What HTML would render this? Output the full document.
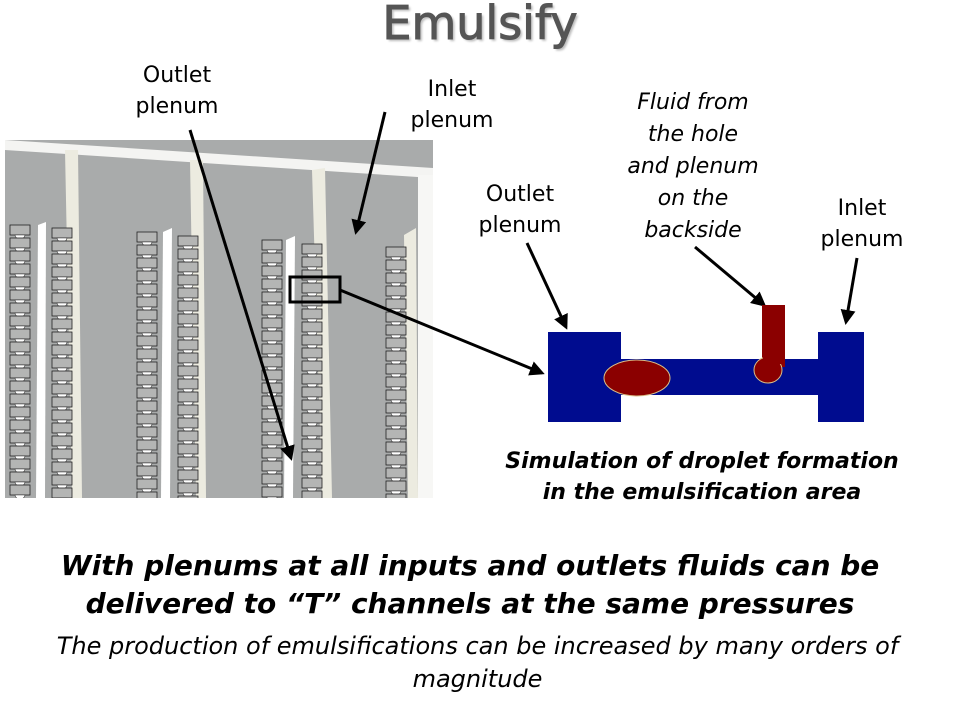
<!DOCTYPE html>
<html><head><meta charset="utf-8"><style>
body{margin:0;width:960px;height:720px;background:#fff;overflow:hidden;position:relative;font-family:"DejaVu Sans","Liberation Sans",sans-serif}
.t{position:absolute;text-align:center;color:#000;white-space:nowrap}
</style></head><body>
<svg width="960" height="720" style="position:absolute;left:0;top:0">
<defs>
<marker id="a" markerWidth="5" markerHeight="5" refX="4" refY="2.5" orient="auto" markerUnits="strokeWidth"><path d="M0,0 L5,2.5 L0,5 z" fill="#000"/></marker>
<clipPath id="cl"><rect x="5" y="140" width="428" height="358"/></clipPath>
</defs>
<rect x="5" y="140" width="428" height="358" fill="#a9abab"/>
<polygon points="5,140 433,168 433,178 5,150" fill="#f4f4f2"/>
<rect x="418" y="175" width="15" height="323" fill="#f7f7f5"/>
<polygon points="38,225 46,222 45,498 36,498" fill="#fff"/>
<polygon points="65,150 78,150 82,498 72,498" fill="#ecebe0"/>
<polygon points="163,232 172,228 170,498 161,498" fill="#fff"/>
<polygon points="190,160 203,160 206,498 196,498" fill="#ecebe0"/>
<polygon points="286,240 295,236 293,498 284,498" fill="#fff"/>
<polygon points="312,170 325,168 332,498 322,498" fill="#ecebe0"/>
<polygon points="404,235 416,228 418,498 408,498" fill="#ecebe0"/>
<g id="chains" clip-path="url(#cl)"></g>
<rect x="290" y="277" width="50" height="25" fill="none" stroke="#000" stroke-width="3"/>
<g stroke="#000" stroke-width="3" fill="none">
<line x1="190" y1="130" x2="291" y2="458" marker-end="url(#a)"/>
<line x1="385" y1="112" x2="356" y2="232" marker-end="url(#a)"/>
<line x1="340" y1="290" x2="542" y2="373" marker-end="url(#a)"/>
<line x1="527" y1="243" x2="566" y2="327" marker-end="url(#a)"/>
<line x1="695" y1="247" x2="764" y2="305" marker-end="url(#a)"/>
<line x1="857" y1="258" x2="846" y2="322" marker-end="url(#a)"/>
</g>
<rect x="548" y="332" width="73" height="90" fill="#000c8f"/>
<rect x="621" y="359" width="197" height="36" fill="#000c8f"/>
<rect x="818" y="332" width="46" height="90" fill="#000c8f"/>
<rect x="762" y="305" width="23" height="62" fill="#8b0000"/>
<ellipse cx="768" cy="370" rx="14" ry="13" fill="#8b0000" stroke="#d9c08a" stroke-width="1"/>
<rect x="763" y="350" width="21" height="14" fill="#8b0000"/>
<ellipse cx="637" cy="378" rx="33" ry="18" fill="#8b0000" stroke="#d9c08a" stroke-width="1"/>
</svg>
<script>
(function(){
var g=document.getElementById('chains'),s='';
var ch=[[10,225],[52,228],[137,232],[178,236],[262,240],[302,244],[386,247]];
ch.forEach(function(c){
 for(var y=c[1];y<498;y+=13){
  var x=c[0];
  s+='<rect x="'+x+'" y="'+y+'" width="20" height="10" fill="#b4b5b4" stroke="#222" stroke-width="0.8"/>';
  s+='<path d="M'+(x+5)+' '+(y+10)+' a5 4 0 0 0 10 0z" fill="#fff" stroke="#333" stroke-width="0.6"/>';
 }
});
g.innerHTML=s;
})();
</script>
<div class="t" style="left:0;width:960px;top:-4px;font-size:46px;color:#555;text-shadow:2px 2px 2px #bbb;-webkit-text-stroke:1px #555">Emulsify</div>
<div class="t" style="left:117px;width:120px;top:60px;font-size:22px;line-height:31px">Outlet<br>plenum</div>
<div class="t" style="left:392px;width:120px;top:74px;font-size:22px;line-height:31px">Inlet<br>plenum</div>
<div class="t" style="left:460px;width:120px;top:179px;font-size:22px;line-height:31px">Outlet<br>plenum</div>
<div class="t" style="left:802px;width:120px;top:193px;font-size:22px;line-height:31px">Inlet<br>plenum</div>
<div class="t" style="left:600px;width:186px;top:87px;font-size:22px;line-height:32px;font-style:italic">Fluid from<br>the hole<br>and plenum<br>on the<br>backside</div>
<div class="t" style="left:480px;width:444px;top:446px;font-size:22px;line-height:31px;font-style:italic;font-weight:bold">Simulation of droplet formation<br>in the emulsification area</div>
<div class="t" style="left:0;width:940px;top:547px;font-size:28px;line-height:38px;font-style:italic;font-weight:bold">With plenums at all inputs and outlets fluids can be<br>delivered to “T” channels at the same pressures</div>
<div class="t" style="left:0;width:955px;top:630px;font-size:24px;line-height:33px;font-style:italic">The production of emulsifications can be increased by many orders of<br>magnitude</div>
</body></html>
